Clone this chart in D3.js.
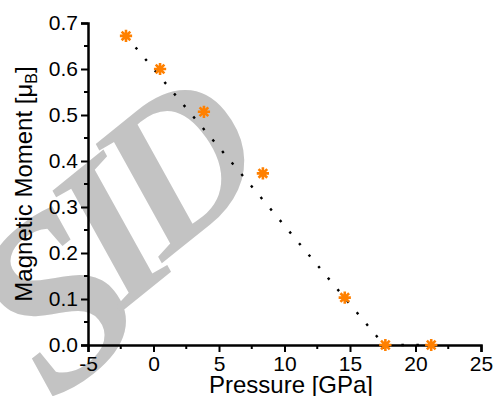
<!DOCTYPE html>
<html><head><meta charset="utf-8">
<script src="https://cdn.jsdelivr.net/npm/d3@7"></script>
<style>body{margin:0;background:#fff}svg{display:block}</style>
</head><body>
<svg id="c" width="495" height="396"></svg>
<script>
const pressure = [-2.1, 0.5, 3.85, 8.35, 14.6, 17.7, 21.2];
const moment = [0.672, 0.600, 0.507, 0.373, 0.103, 0.0, 0.0];
const fitX = [-2.1, 17.6, 21.2];
const fitY = [0.672, 0.0, 0.0];
const xTicks = [-5, 0, 5, 10, 15, 20, 25];
const yTicks = [0, 0.1, 0.2, 0.3, 0.4, 0.5, 0.6, 0.7];
const watermark = ['S', 'I', 'D'];

const svg = d3.select('#c');
const x = d3.scaleLinear().domain([-5, 25]).range([88, 481]);
const y = d3.scaleLinear().domain([0, 0.7]).range([345, 23]);

// watermark letters (placement in pixels)
const wmPos = [[55, 300, 240], [110, 232, 210], [178, 163, 205]];
svg.append('g').selectAll('text').data(watermark).enter().append('text')
  .attr('transform', (d, i) => `translate(${wmPos[i][0]},${wmPos[i][1]}) rotate(-39)`)
  .attr('text-anchor', 'middle').attr('dy', '0.33em')
  .attr('font-family', 'Liberation Serif').attr('font-weight', 'bold')
  .attr('font-style', 'italic').attr('font-size', (d, i) => wmPos[i][2])
  .attr('fill', '#c3c3c3').text(d => d);

// dotted fit line
svg.append('path').datum(fitX.map((v, i) => [v, fitY[i]]))
  .attr('d', d3.line().x(d => x(d[0])).y(d => y(d[1])))
  .attr('fill', 'none').attr('stroke', '#000').attr('stroke-width', 2.4)
  .attr('stroke-dasharray', '2.5 12.5').attr('stroke-linecap', 'butt');

// axes
const font = 'Liberation Sans, Arial, sans-serif';
const fmtX = d => String(d);
const xAxis = d3.axisBottom(x).tickValues(xTicks).tickSize(7).tickPadding(4.5).tickFormat(fmtX);
const gx = svg.append('g').attr('transform', `translate(0,${y(0)})`).call(xAxis);
const xMinor = d3.range(-2.5, 25, 5);
gx.selectAll('.minor').data(xMinor).enter().append('line').attr('class', 'minor')
  .attr('x1', d => x(d)).attr('x2', d => x(d)).attr('y1', 0).attr('y2', 4)
  .attr('stroke', '#000').attr('stroke-width', 2);

const yAxis = d3.axisLeft(y).tickValues(yTicks).tickSize(7).tickPadding(3).tickFormat(d3.format('.1f'));
const gy = svg.append('g').attr('transform', `translate(${x(-5)},0)`).call(yAxis);
const yMinor = d3.range(0.05, 0.7, 0.1);
gy.selectAll('.minor').data(yMinor).enter().append('line').attr('class', 'minor')
  .attr('x1', 0).attr('x2', -4).attr('y1', d => y(d)).attr('y2', d => y(d))
  .attr('stroke', '#000').attr('stroke-width', 2);

[gx, gy].forEach(g => {
  g.select('.domain').attr('stroke-width', 2.5).attr('stroke', '#000');
  g.selectAll('.tick line').attr('stroke-width', 2).attr('stroke', '#000');
  g.selectAll('.tick text').attr('font-family', font).attr('font-size', 21).attr('fill', '#000');
});

// markers
const star = {
  draw(ctx, size) {
    const r = Math.sqrt(size) / 2;
    const d = r * Math.SQRT1_2;
    ctx.moveTo(-r, 0); ctx.lineTo(r, 0);
    ctx.moveTo(0, -r); ctx.lineTo(0, r);
    ctx.moveTo(-d, -d); ctx.lineTo(d, d);
    ctx.moveTo(-d, d); ctx.lineTo(d, -d);
  }
};
svg.append('g').selectAll('path').data(pressure).enter().append('path')
  .attr('transform', (d, i) => `translate(${x(d)},${y(moment[i])})`)
  .attr('d', d3.symbol().type(star).size(150))
  .attr('fill', 'none').attr('stroke', '#ff8000').attr('stroke-width', 2.6);

// labels
svg.append('text').attr('x', 291).attr('y', 393).attr('text-anchor', 'middle')
  .attr('font-family', font).attr('font-size', 24).text('Pressure [GPa]');
const yl = svg.append('text').attr('transform', 'translate(32,184) rotate(-90)')
  .attr('text-anchor', 'middle').attr('font-family', font).attr('font-size', 24);
yl.append('tspan').text('Magnetic Moment [μ');
yl.append('tspan').attr('font-size', 16).attr('dy', 5).text('B');
yl.append('tspan').attr('dy', -5).text(']');
</script>
</body></html>
